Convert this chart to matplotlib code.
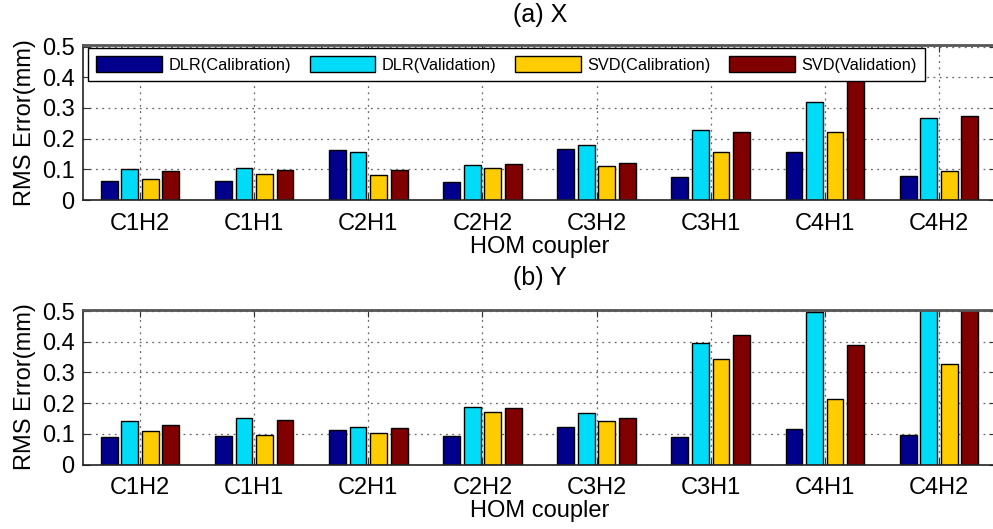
import matplotlib
matplotlib.use("Agg")
import matplotlib.pyplot as plt
import numpy as np

plt.rcParams['font.family'] = ['Liberation Sans', 'DejaVu Sans']

categories = ['C1H2', 'C1H1', 'C2H1', 'C2H2', 'C3H2', 'C3H1', 'C4H1', 'C4H2']
series_names = ['DLR(Calibration)', 'DLR(Validation)', 'SVD(Calibration)', 'SVD(Validation)']

x_dlr_cal = [0.063, 0.063, 0.163, 0.059, 0.167, 0.074, 0.158, 0.079]
x_dlr_val = [0.102, 0.104, 0.157, 0.115, 0.179, 0.228, 0.318, 0.268]
x_svd_cal = [0.070, 0.085, 0.081, 0.104, 0.112, 0.157, 0.220, 0.095]
x_svd_val = [0.096, 0.099, 0.099, 0.117, 0.119, 0.222, 0.420, 0.274]

y_dlr_cal = [0.090, 0.094, 0.112, 0.094, 0.123, 0.088, 0.115, 0.095]
y_dlr_val = [0.142, 0.153, 0.121, 0.187, 0.167, 0.395, 0.497, 0.560]
y_svd_cal = [0.108, 0.096, 0.104, 0.170, 0.142, 0.343, 0.212, 0.328]
y_svd_val = [0.130, 0.146, 0.119, 0.185, 0.153, 0.423, 0.390, 0.540]

yticks = [0, 0.1, 0.2, 0.3, 0.4, 0.5]
ytick_labels = ['0', '0.1', '0.2', '0.3', '0.4', '0.5']

colors = ['#00008C', '#00DCF8', '#FFCC00', '#800000']

W, H = 993, 529
fig = plt.figure(figsize=(W / 100, H / 100), dpi=100)

def ax_rect(left, right, top, bottom):
    return [left / W, 1 - bottom / H, (right - left) / W, (bottom - top) / H]

ax1 = fig.add_axes(ax_rect(83, 996, 45, 200))
ax2 = fig.add_axes(ax_rect(83, 996, 309.5, 464.5))

xpos = np.arange(1, len(categories) + 1)
offset = 0.18
bw = 0.147

def draw(ax, data):
    handles = []
    for i, (vals, c, name) in enumerate(zip(data, colors, series_names)):
        h = ax.bar(xpos + (i - 1.5) * offset, vals, width=bw, color=c,
                   edgecolor='black', linewidth=1.0, label=name, zorder=2)
        handles.append(h)
    ax.set_xlim(0.5, 8.5)
    ax.set_ylim(0, 0.505)
    ax.set_xticks(xpos)
    ax.set_xticklabels(categories)
    ax.set_yticks(yticks)
    ax.set_yticklabels(ytick_labels)
    ax.tick_params(direction='in', top=True, right=True, length=5,
                   labelsize=17, pad=6, color='#333333')
    ax.tick_params(axis='x', pad=9)
    ax.grid(True, linestyle=(0, (1.5, 3.5)), color='#666666', linewidth=0.9)
    ax.set_axisbelow(True)
    for s in ax.spines.values():
        s.set_color('#222222')
        s.set_linewidth(1.2)
    ax.spines['top'].set_linewidth(2.0)
    ax.spines['top'].set_color('#555555')
    ax.text(-0.063, 0.5, 'RMS Error(mm)', transform=ax.transAxes, rotation=90,
            ha='center', va='center', fontsize=17)
    ax.text(0.5, -0.30, 'HOM coupler', transform=ax.transAxes,
            ha='center', va='center', fontsize=17)
    return handles

h = draw(ax1, [x_dlr_cal, x_dlr_val, x_svd_cal, x_svd_val])
draw(ax2, [y_dlr_cal, y_dlr_val, y_svd_cal, y_svd_val])

leg = ax1.legend(handles=h, ncol=4, loc='upper left',
                 bbox_to_anchor=(88 / W, 1 - 48 / H), bbox_transform=fig.transFigure,
                 fontsize=11.8, handlelength=4.0, handleheight=1.15,
                 handletextpad=0.4, columnspacing=1.15, borderpad=0.5,
                 borderaxespad=0, fancybox=False, framealpha=1, edgecolor='black')
leg.get_frame().set_linewidth(1.0)
leg.set_zorder(5)

fig.text(540 / W, 1 - 15 / H, '(a) X', ha='center', va='center', fontsize=18)
fig.text(540 / W, 1 - 278 / H, '(b) Y', ha='center', va='center', fontsize=18)

fig.savefig('out.png', dpi=100)
